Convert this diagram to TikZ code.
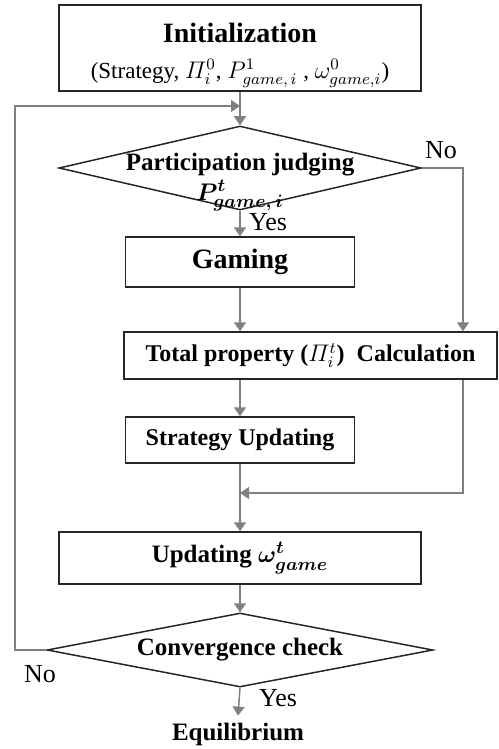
\documentclass[tikz,border=0pt]{standalone}
\usepackage{amsmath}
\usepackage{fontspec}
\setmainfont{Liberation Serif}
\usetikzlibrary{shapes.geometric,arrows.meta}

\begin{document}
\begin{tikzpicture}[x=0.5pt,y=-0.5pt,
  box/.style={draw=black!85,line width=0.75pt,rectangle,inner sep=0pt,font=\fontsize{12}{14}\selectfont\bfseries},
  decision/.style={draw=black!85,line width=0.75pt,diamond,inner sep=0pt},
  flow/.style={draw=black!50,line width=0.75pt,-{Triangle[length=4.5pt,width=6pt]}},
  link/.style={draw=black!50,line width=0.75pt},
  answer/.style={font=\fontsize{13}{15}\selectfont}]
  \useasboundingbox (0,0) rectangle (498,749);
  \node[box,minimum width=181pt,minimum height=43pt,align=center] (init) at (240,48)
    {{\fontsize{14}{16}\selectfont\rule{0pt}{17pt}Initialization}\\[4pt]{\mdseries\fontsize{11.5}{13}\selectfont (Strategy, $\varPi_i^0$, $P^1_{game,\,i}$ , $\omega^0_{game,i}$)}};
  \coordinate (join) at (240,106);
  \coordinate (loopTop) at (15,106);
  \node[decision,minimum width=181pt,minimum height=42pt,
    label={[align=center,yshift=-7pt,font=\fontsize{12.5}{14}\selectfont\bfseries]center:{Participation judging\\[1pt]$\boldsymbol{P^t_{game,\,i}}$}}] (part) at (240,168) {};
  \node[box,minimum width=114.5pt,minimum height=25pt,font=\fontsize{14}{16}\selectfont\bfseries] (gaming) at (240,262) {Gaming};
  \node[box,minimum width=186.5pt,minimum height=23.5pt] (total) at (310.5,355.5) {Total property ($\varPi_i^t$)\ \ Calculation};
  \node[box,minimum width=114.5pt,minimum height=23pt] (strat) at (240,440) {Strategy Updating};
  \coordinate (merge) at (240,493);
  \coordinate (side) at (463,493);
  \node[box,minimum width=181pt,minimum height=26pt,font=\fontsize{12.5}{14}\selectfont\bfseries] (upd) at (240,558) {Updating $\boldsymbol{\omega^t_{game}}$};
  \node[decision,minimum width=193pt,minimum height=37pt,
    label={[font=\fontsize{12.5}{14}\selectfont\bfseries]center:Convergence check}] (conv) at (240,650) {};
  \node[font=\fontsize{12.5}{14}\selectfont\bfseries] (equil) at (238,734) {Equilibrium};
  % yes / no
  \node[answer] (partNo) at (441,150) {No};
  \node[answer] (partYes) at (268,222) {Yes};
  \node[answer] (convNo) at (40,674) {No};
  \node[answer] (convYes) at (278,698) {Yes};
  % connectors
  \draw[link] (init.south) -- (join);
  \draw[flow] (join) -- (part.north);
  \draw[flow] (conv.west) -| (loopTop) -- (join);
  \draw[flow] (part.east) -| (total.north -| side);
  \draw[flow] (part.south) -- (gaming.north);
  \draw[flow] (gaming.south) -- (total.north -| gaming.south);
  \draw[flow] (total.south -| strat.north) -- (strat.north);
  \draw[flow] (total.south -| side) -- (side) -- (merge);
  \draw[flow] (strat.south) -- (upd.north);
  \draw[flow] (upd.south) -- (conv.north);
  \draw[flow] (conv.south) -- (equil.north);
\end{tikzpicture}
\end{document}
